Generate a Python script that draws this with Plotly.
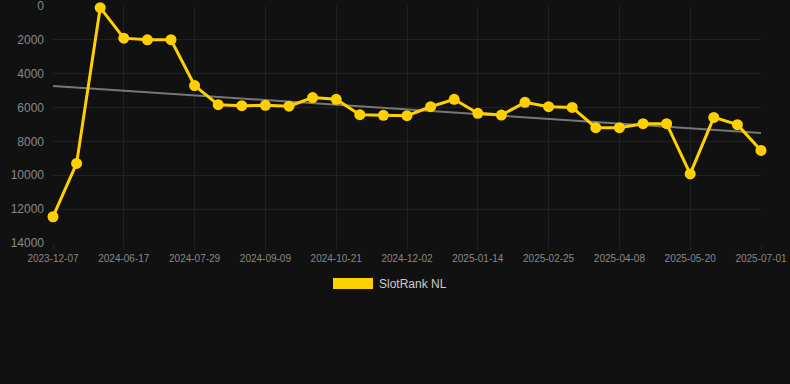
import plotly.graph_objects as go

dates = [
    "2023-12-07", "2024-05-20", "2024-06-03", "2024-06-17", "2024-07-01", "2024-07-15",
    "2024-07-29", "2024-08-12", "2024-08-26", "2024-09-09", "2024-09-23", "2024-10-07",
    "2024-10-21", "2024-11-04", "2024-11-18", "2024-12-02", "2024-12-16", "2024-12-30",
    "2025-01-14", "2025-01-28", "2025-02-11", "2025-02-25", "2025-03-11", "2025-03-25",
    "2025-04-08", "2025-04-22", "2025-05-06", "2025-05-20", "2025-06-03", "2025-06-17",
    "2025-07-01",
]
rank = [
    12450, 9300, 100, 1900, 2000, 1990, 4700, 5830, 5890, 5870, 5920, 5410,
    5510, 6420, 6460, 6480, 5950, 5510, 6340, 6440, 5690, 5950, 5990, 7190,
    7190, 6950, 6950, 9920, 6580, 7010, 8530,
]
trend_x = [dates[0], dates[-1]]
trend_y = [4720, 7500]
x_ticks = dates[::3]
y_ticks = [0, 2000, 4000, 6000, 8000, 10000, 12000, 14000]
y_ticktext = [str(v) for v in y_ticks]
series_name = "SlotRank NL"

YELLOW = "#FFD000"
BG = "#111111"
GRID = "#212121"
TICK = "#888888"

fig = go.Figure()
fig.add_trace(go.Scatter(
    x=trend_x, y=trend_y, mode="lines",
    line=dict(color="#777777", width=2),
    showlegend=False, hoverinfo="skip", cliponaxis=False,
))
fig.add_trace(go.Scatter(
    x=dates, y=rank, mode="lines+markers", name=series_name,
    line=dict(color=YELLOW, width=3),
    marker=dict(color=YELLOW, size=11),
    showlegend=False, cliponaxis=False,
))

fig.update_layout(
    width=790, height=384,
    paper_bgcolor=BG, plot_bgcolor=BG,
    margin=dict(l=53, r=29, t=6, b=141),
    font=dict(family="Liberation Sans, Arial, sans-serif", color=TICK),
    xaxis=dict(
        type="category", categoryorder="array", categoryarray=dates,
        range=[0, len(dates) - 1],
        tickmode="array", tickvals=x_ticks, ticktext=x_ticks,
        tickfont=dict(size=10, color=TICK),
        showgrid=True, gridcolor=GRID, gridwidth=1,
        zeroline=False, showline=False,
        ticks="outside", ticklen=6, tickcolor=GRID,
        ticklabeloverflow="allow", automargin=False,
    ),
    yaxis=dict(
        range=[14000, 0], tickmode="array", tickvals=y_ticks, ticktext=y_ticktext,
        tickfont=dict(size=12, color=TICK),
        showgrid=True, gridcolor=GRID, gridwidth=1,
        zeroline=False, showline=False,
        ticks="", ticklabelstandoff=8,
        ticklabeloverflow="allow", automargin=False,
    ),
    showlegend=False,
)

# legend drawn as a box + label
fig.add_shape(type="rect", xref="paper", yref="paper",
              x0=(333 - 53) / 708, x1=(373 - 53) / 708,
              y0=(243 - 289) / 237, y1=(243 - 278) / 237,
              fillcolor=YELLOW, line=dict(width=0))
fig.add_annotation(text=series_name, xref="paper", yref="paper",
                   x=(377 - 53) / 708, y=(243 - 284) / 237,
                   xanchor="left", yanchor="middle", showarrow=False,
                   font=dict(size=12, color="#cccccc"))

fig.write_html("out.html", config={"displayModeBar": False},
               post_script="document.body.style.margin='0';document.body.style.background='#111111';")
